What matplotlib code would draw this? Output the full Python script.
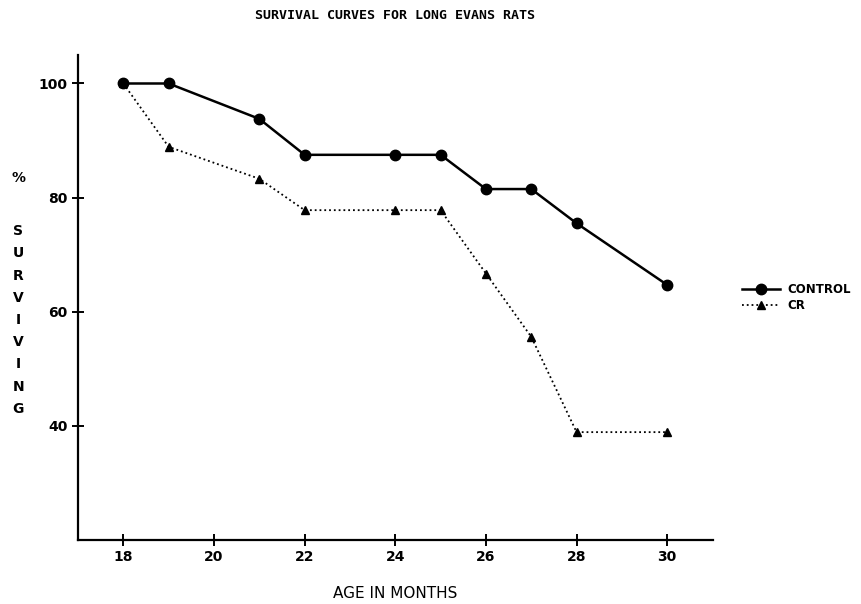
import matplotlib
matplotlib.use('Agg')
import matplotlib.pyplot as plt

# ages (months) and % surviving
age = [18, 19, 21, 22, 24, 25, 26, 27, 28, 30]
control = [100, 100, 93.8, 87.5, 87.5, 87.5, 81.5, 81.5, 75.5, 64.7]
cr = [100, 88.9, 83.3, 77.8, 77.8, 77.8, 66.7, 55.6, 38.9, 38.9]

x_ticks = [18, 20, 22, 24, 26, 28, 30]
y_ticks = [40, 60, 80, 100]

fig = plt.figure(figsize=(8.61, 6.04), dpi=100)
ax = fig.add_axes([0.0906, 0.106, 0.737, 0.803])

ax.plot(age, control, '-', color='k', lw=1.8, marker='o', ms=7.5, label='CONTROL')
ax.plot(age, cr, ':', color='k', lw=1.3, marker='^', ms=6, label='CR')

ax.set_xlim(17, 31)
ax.set_ylim(20, 105)
ax.set_xticks(x_ticks)
ax.set_yticks(y_ticks)
for s in ['top', 'right']:
    ax.spines[s].set_visible(False)
for s in ['left', 'bottom']:
    ax.spines[s].set_linewidth(1.6)
ax.tick_params(direction='inout', length=9, width=1.4, labelsize=10, pad=3)
for lab in ax.get_xticklabels() + ax.get_yticklabels():
    lab.set_fontweight('bold')

fig.text(0.459, 0.975, 'SURVIVAL CURVES FOR LONG EVANS RATS', ha='center', va='center',
         fontsize=9.5, fontweight='bold', family='DejaVu Sans Mono')
fig.text(0.459, 0.018, 'AGE IN MONTHS', ha='center', va='center', fontsize=11)

fig.text(0.021, 1 - 178 / 604, '%', ha='center', va='center', fontsize=10, fontweight='bold')
fig.text(0.021, 1 - 224 / 604, '\n'.join('SURVIVING'), ha='center', va='top',
         fontsize=10, fontweight='bold', linespacing=1.75)

ax.legend(loc='center left', bbox_to_anchor=(1.03, 0.5), frameon=False,
          handlelength=3.2, prop={'weight': 'bold', 'size': 8.5},
          labelspacing=0.3, handletextpad=0.6)

fig.savefig('out.png', dpi=100)
